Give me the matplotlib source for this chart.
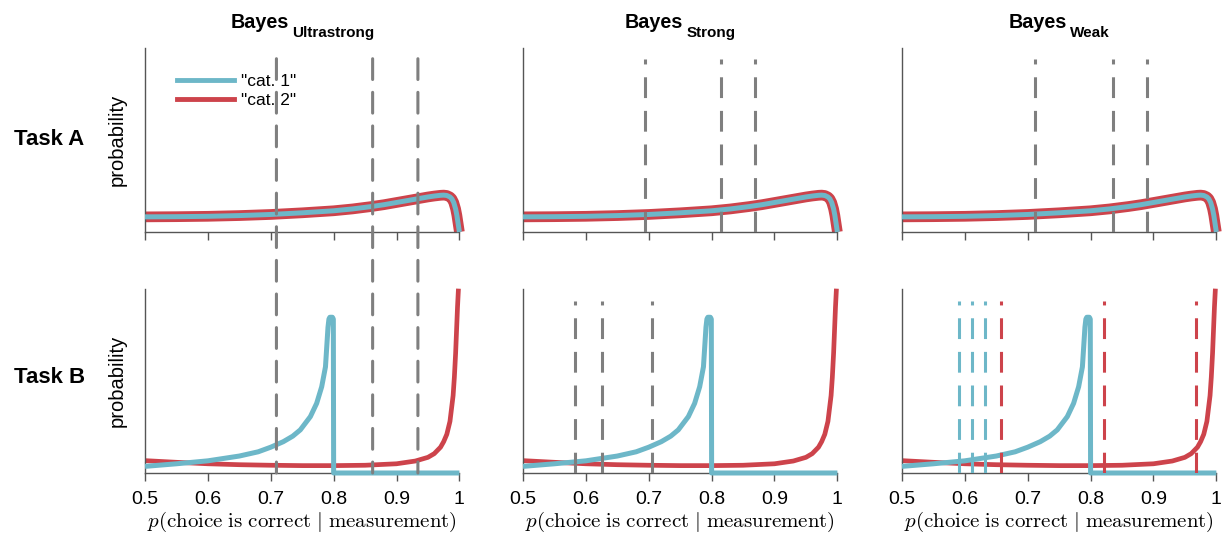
import matplotlib
matplotlib.use("Agg")
import matplotlib.pyplot as plt
from matplotlib.lines import Line2D
from matplotlib.patches import ConnectionPatch

plt.rcParams['font.family'] = ['Liberation Sans', 'DejaVu Sans']

BLUE = '#6db7c8'
RED = '#cd434b'
GRAY = '#7f7f7f'
AXC = '#555555'

# models (columns) and tasks (rows)
models = ['Ultrastrong', 'Strong', 'Weak']
tasks = ['Task A', 'Task B']

# Task A: both categories give the same confidence distribution
taskA_x = [0.5, 0.55, 0.6, 0.65, 0.7, 0.75, 0.8, 0.83, 0.86, 0.88, 0.9, 0.92,
           0.935, 0.95, 0.96, 0.97, 0.975, 0.98, 0.985, 0.988, 0.991, 0.994,
           0.996, 0.998, 1.0]
taskA_y = [0.082, 0.083, 0.085, 0.089, 0.095, 0.104, 0.115, 0.125, 0.138, 0.148,
           0.16, 0.172, 0.181, 0.19, 0.195, 0.199, 0.2, 0.198, 0.19, 0.18, 0.16,
           0.125, 0.09, 0.045, 0.0]

# Task B, "cat. 1"
taskB_c1_x = [0.5, 0.55, 0.6, 0.65, 0.68, 0.7, 0.72, 0.735, 0.747, 0.763, 0.773,
              0.781, 0.787, 0.789, 0.791, 0.7925, 0.794, 0.798, 0.7995, 0.8, 1.0]
taskB_c1_y = [0.036, 0.05, 0.066, 0.092, 0.115, 0.14, 0.17, 0.2, 0.234, 0.306,
              0.378, 0.468, 0.576, 0.683, 0.79, 0.835, 0.845, 0.845, 0.835, 0.0, 0.0]

# Task B, "cat. 2"
taskB_c2_x = [0.5, 0.55, 0.6, 0.65, 0.7, 0.75, 0.8, 0.85, 0.9, 0.93, 0.95, 0.96,
              0.97, 0.975, 0.98, 0.985, 0.99, 0.992, 0.994, 0.997, 0.9985]
taskB_c2_y = [0.067, 0.058, 0.05, 0.045, 0.042, 0.04, 0.04, 0.042, 0.05, 0.065,
              0.085, 0.105, 0.14, 0.17, 0.21, 0.28, 0.42, 0.52, 0.65, 0.9, 1.0]

# decision criteria (dashed lines)
critA = {'Ultrastrong': [0.709, 0.862, 0.934],
         'Strong': [0.694, 0.815, 0.869],
         'Weak': [0.712, 0.835, 0.889]}
critB_gray = {'Strong': [0.582, 0.625, 0.705]}
critB_blue = {'Weak': [0.591, 0.612, 0.632]}
critB_red = {'Weak': [0.658, 0.821, 0.968]}

xticks = [0.5, 0.6, 0.7, 0.8, 0.9, 1.0]
xticklabels = ['0.5', '0.6', '0.7', '0.8', '0.9', '1']

W, H = 1228, 535
fig = plt.figure(figsize=(W / 100, H / 100), dpi=100)
lefts = [0.1181, 0.4259, 0.7345]
width = 0.2560
bottoms = [0.5664, 0.1159]
height = 0.3445

dash = (0, (6.8, 4.2))
dlw = 2.2

axes = [[None] * 3 for _ in range(2)]
for r in range(2):
    for c in range(3):
        ax = fig.add_axes([lefts[c], bottoms[r], width, height])
        axes[r][c] = ax
        ax.set_xlim(0.5, 1.0)
        ax.set_ylim(0, 1)
        for s in ['top', 'right']:
            ax.spines[s].set_visible(False)
        for s in ['left', 'bottom']:
            ax.spines[s].set_color(AXC)
            ax.spines[s].set_linewidth(1.0)
        ax.set_yticks([])
        ax.set_xticks(xticks)
        ax.tick_params(axis='x', direction='out', length=6, width=1, color=AXC,
                       labelsize=14, pad=7)
        if r == 0:
            ax.set_xticklabels([])
        else:
            ax.set_xticklabels(xticklabels)
            ax.set_xlabel(r'$p(\mathrm{choice\ is\ correct}\ |\ \mathrm{measurement})$',
                          fontsize=15, math_fontfamily='cm', labelpad=1)
        if c == 0:
            ax.set_ylabel('probability', fontsize=14.5)
            ax.yaxis.set_label_coords(-0.057, 0.5)

        if r == 0:
            ax.plot(taskA_x, taskA_y, color=RED, lw=7.7, solid_capstyle='butt',
                    solid_joinstyle='round', clip_on=False, zorder=2)
            ax.plot(taskA_x, taskA_y, color=BLUE, lw=3.6, solid_capstyle='butt',
                    solid_joinstyle='round', clip_on=False, zorder=3)
        else:
            ax.plot(taskB_c2_x, taskB_c2_y, color=RED, lw=3.4, solid_capstyle='butt',
                    solid_joinstyle='round', clip_on=False, zorder=2)
            ax.plot(taskB_c1_x, taskB_c1_y, color=BLUE, lw=3.6, solid_capstyle='butt',
                    solid_joinstyle='round', clip_on=False, zorder=3)

# titles: "Bayes" with a bold subscript, centred over each column
renderer = fig.canvas.get_renderer()
for c, m in enumerate(models):
    main = fig.text(0, 1 - 28 / H, 'Bayes', fontsize=14.2, fontweight='bold',
                    va='baseline', ha='left')
    sub = fig.text(0, 1 - 37 / H, m, fontsize=11, fontweight='bold',
                   va='baseline', ha='left')
    w1 = main.get_window_extent(renderer).width
    w2 = sub.get_window_extent(renderer).width
    xc = (lefts[c] + width / 2) * W
    x0 = xc - (w1 + 3 + w2) / 2
    main.set_x(x0 / W)
    sub.set_x((x0 + w1 + 3) / W)

# row labels
fig.text(0.040, 0.7396, tasks[0], fontsize=16, fontweight='bold', ha='center', va='center')
fig.text(0.040, 0.2935, tasks[1], fontsize=16, fontweight='bold', ha='center', va='center')

# criteria
for c, m in enumerate(models):
    axT, axB = axes[0][c], axes[1][c]
    if m == 'Ultrastrong':
        for x in critA[m]:
            con = ConnectionPatch(xyA=(x, 0.94), coordsA=axT.get_xaxis_transform(),
                                  xyB=(x, 0.0), coordsB=axB.get_xaxis_transform(),
                                  color=GRAY, lw=dlw, linestyle=dash, zorder=5)
            fig.add_artist(con)
    else:
        for x in critA[m]:
            axT.axvline(x, ymin=0, ymax=0.94, color=GRAY, lw=dlw, ls=dash, zorder=5)
    for x in critB_gray.get(m, []):
        axB.axvline(x, ymin=0, ymax=0.935, color=GRAY, lw=dlw, ls=dash, zorder=5)
    for x in critB_blue.get(m, []):
        axB.axvline(x, ymin=0, ymax=0.935, color=BLUE, lw=dlw, ls=dash, zorder=5)
    for x in critB_red.get(m, []):
        axB.axvline(x, ymin=0, ymax=0.935, color=RED, lw=dlw, ls=dash, zorder=5)

# legend
handles = [Line2D([], [], color=BLUE, lw=3.5), Line2D([], [], color=RED, lw=3.5)]
axes[0][0].legend(handles, ['"cat. 1"', '"cat. 2"'], loc='upper left',
                  bbox_to_anchor=(0.08, 0.897), frameon=False, fontsize=12.5,
                  handlelength=3.3, handletextpad=0.4, labelspacing=0.25,
                  borderaxespad=0)

fig.savefig('out.png', dpi=100)
